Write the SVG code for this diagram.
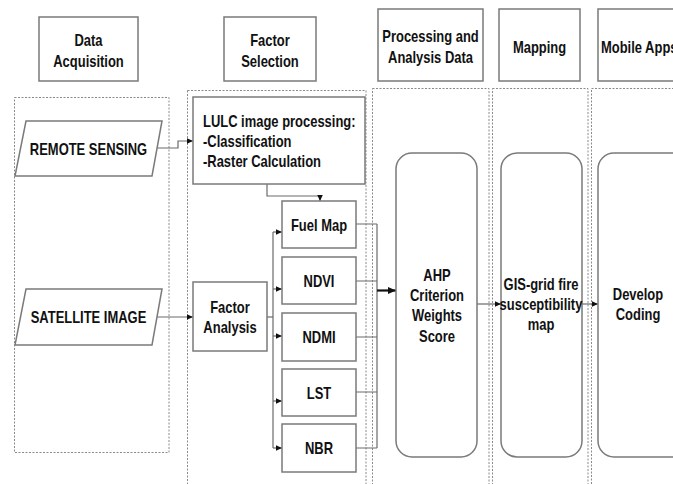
<svg xmlns="http://www.w3.org/2000/svg" width="673" height="484" viewBox="0 0 673 484">
  <defs>
    <style>
      .lane { fill: none; stroke: #8a8a8a; stroke-width: 1; stroke-dasharray: 2 1.5; }
      .box { fill: #fff; stroke: #7a7a7a; stroke-width: 1.5; }
      .rbox { fill: #fff; stroke: #7a7a7a; stroke-width: 1.5; }
      .t { font-family: "Liberation Sans", Arial, sans-serif; font-weight: bold; font-size: 16px; fill: #111; text-anchor: middle; }
      .ts { text-anchor: start; }
      .c { fill: none; stroke: #6a6a6a; stroke-width: 1.2; }
      .ca { fill: none; stroke: #6a6a6a; stroke-width: 1.2; marker-end: url(#arr); }
      .cb { fill: none; stroke: #111; stroke-width: 2.2; marker-end: url(#arrB); }
    </style>
    <marker id="arr" markerUnits="userSpaceOnUse" markerWidth="8" markerHeight="8" viewBox="0 0 8 8" refX="7" refY="4" orient="auto">
      <path d="M1,1.2 L7,4 L1,6.8 Z" fill="#111"/>
    </marker>
    <marker id="arrB" markerUnits="userSpaceOnUse" markerWidth="10" markerHeight="10" viewBox="0 0 10 10" refX="9" refY="5" orient="auto">
      <path d="M1,1.5 L9,5 L1,8.5 Z" fill="#111"/>
    </marker>
  </defs>

  <rect width="673" height="484" fill="#fff"/>

  <!-- swim lanes -->
  <g id="lanes">
    <rect class="lane" x="14.5" y="97.5" width="154.5" height="355"/>
    <rect class="lane" x="187.5" y="90.5" width="178.5" height="400"/>
    <rect class="lane" x="372.5" y="88.5" width="116.5" height="402"/>
    <rect class="lane" x="492.5" y="88.5" width="95.5" height="402"/>
    <rect class="lane" x="591.5" y="88.5" width="95" height="402"/>
  </g>

  <!-- stage headers -->
  <g id="hdr-data">
    <rect class="box" x="39" y="17" width="99" height="64"/>
    <text class="t" transform="translate(88.5,45.8) scale(0.81,1)"><tspan x="0" y="0">Data</tspan><tspan x="0" y="21">Acquisition</tspan></text>
  </g>
  <g id="hdr-factor">
    <rect class="box" x="224" y="17" width="92" height="64"/>
    <text class="t" transform="translate(270,45.8) scale(0.81,1)"><tspan x="0" y="0">Factor</tspan><tspan x="0" y="21">Selection</tspan></text>
  </g>
  <g id="hdr-processing">
    <rect class="box" x="378" y="9" width="105" height="72"/>
    <text class="t" transform="translate(430.5,41.8) scale(0.81,1)"><tspan x="0" y="0">Processing and</tspan><tspan x="0" y="21">Analysis Data</tspan></text>
  </g>
  <g id="hdr-mapping">
    <rect class="box" x="499" y="9" width="81" height="72"/>
    <text class="t" transform="translate(539.5,52.8) scale(0.81,1)">Mapping</text>
  </g>
  <g id="hdr-mobile">
    <rect class="box" x="598" y="9" width="90" height="72"/>
    <text class="t ts" transform="translate(601,52.8) scale(0.81,1)">Mobile Apps</text>
  </g>

  <!-- connectors -->
  <g id="connectors">
    <path class="ca" d="M157,148 H178 V141 H193"/>
    <path class="ca" d="M157,317 H193"/>
    <path class="ca" d="M267,184 V196 H320 V201"/>
    <path class="c" d="M267,317 H273"/>
    <path class="c" d="M273,232 V448"/>
    <path class="ca" d="M273,232 H282"/>
    <path class="ca" d="M273,289 H282"/>
    <path class="ca" d="M273,336 H282"/>
    <path class="ca" d="M273,401 H282"/>
    <path class="ca" d="M273,448 H282"/>
    <path class="c" d="M356,224 H377 M356,281 H377 M356,337 H377 M356,392 H377 M356,448 H377"/>
    <path class="c" d="M377,224 V448"/>
    <path class="cb" d="M377,290.5 H396"/>
    <path class="ca" d="M477,304 H501"/>
    <path class="ca" d="M582,304 H598"/>
  </g>

  <!-- data acquisition -->
  <g id="remote-sensing">
    <polygon class="box" points="26,121 162,121 152,176 15,176"/>
    <text class="t" transform="translate(88.5,155.3) scale(0.81,1)">REMOTE SENSING</text>
  </g>
  <g id="satellite-image">
    <polygon class="box" points="26,289 162,289 152,345 15,345"/>
    <text class="t" transform="translate(88.5,323.3) scale(0.81,1)">SATELLITE IMAGE</text>
  </g>

  <!-- factor selection -->
  <g id="lulc">
    <rect class="box" x="193" y="97" width="172" height="87"/>
    <text class="t ts" transform="translate(203,127.3) scale(0.81,1)"><tspan x="0" y="0">LULC image processing:</tspan><tspan x="0" y="20">-Classification</tspan><tspan x="0" y="40">-Raster Calculation</tspan></text>
  </g>
  <g id="factor-analysis">
    <rect class="box" x="193" y="282" width="74" height="69"/>
    <text class="t" transform="translate(230,313.3) scale(0.81,1)"><tspan x="0" y="0">Factor</tspan><tspan x="0" y="20">Analysis</tspan></text>
  </g>
  <g id="fuel-map">
    <rect class="box" x="282" y="201" width="74" height="47"/>
    <text class="t" transform="translate(319,231.3) scale(0.81,1)">Fuel Map</text>
  </g>
  <g id="ndvi">
    <rect class="box" x="282" y="257" width="74" height="47"/>
    <text class="t" transform="translate(319,287.3) scale(0.81,1)">NDVI</text>
  </g>
  <g id="ndmi">
    <rect class="box" x="282" y="313" width="74" height="48"/>
    <text class="t" transform="translate(319,342.8) scale(0.81,1)">NDMI</text>
  </g>
  <g id="lst">
    <rect class="box" x="282" y="369" width="74" height="47"/>
    <text class="t" transform="translate(319,399.3) scale(0.81,1)">LST</text>
  </g>
  <g id="nbr">
    <rect class="box" x="282" y="424" width="74" height="48"/>
    <text class="t" transform="translate(319,454.3) scale(0.81,1)">NBR</text>
  </g>

  <!-- processing, mapping, apps -->
  <g id="ahp">
    <rect class="rbox" x="396" y="153" width="81" height="304" rx="16" ry="16"/>
    <text class="t" transform="translate(437,280.8) scale(0.81,1)"><tspan x="0" y="0">AHP</tspan><tspan x="0" y="20.3">Criterion</tspan><tspan x="0" y="40.6">Weights</tspan><tspan x="0" y="60.9">Score</tspan></text>
  </g>
  <g id="gis-map">
    <rect class="rbox" x="501" y="153" width="81" height="304" rx="16" ry="16"/>
    <text class="t" transform="translate(541,290.3) scale(0.81,1)"><tspan x="0" y="0">GIS-grid fire</tspan><tspan x="0" y="20">susceptibility</tspan><tspan x="0" y="40">map</tspan></text>
  </g>
  <g id="develop">
    <rect class="rbox" x="598" y="153" width="95" height="304" rx="16" ry="16"/>
    <text class="t" transform="translate(638,300.3) scale(0.81,1)"><tspan x="0" y="0">Develop</tspan><tspan x="0" y="20">Coding</tspan></text>
  </g>
</svg>
